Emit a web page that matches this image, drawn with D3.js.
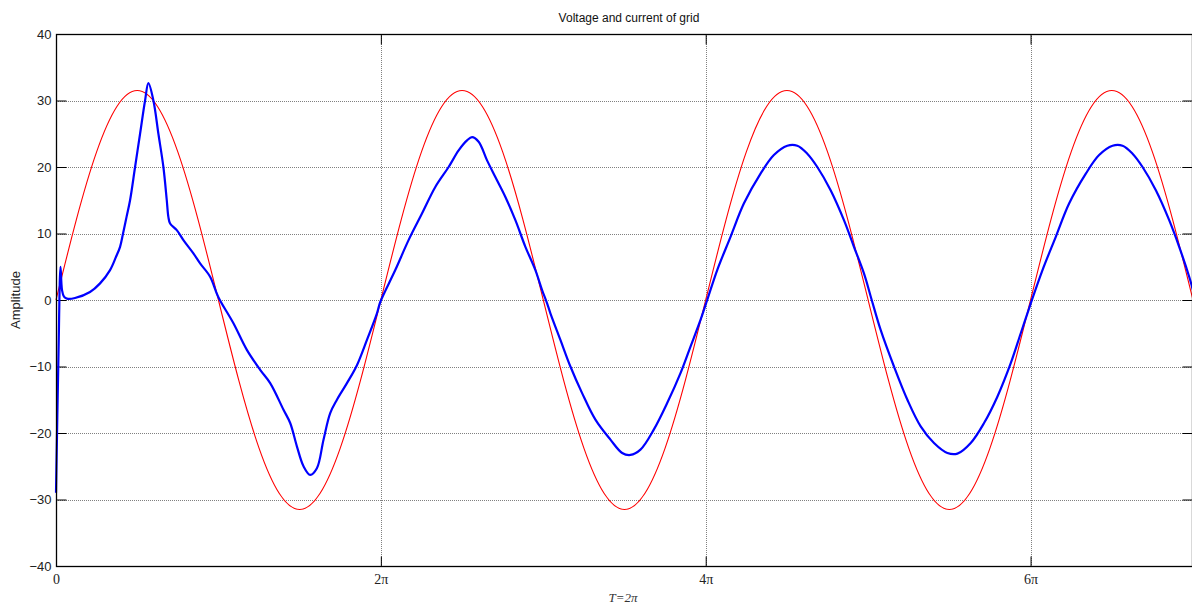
<!DOCTYPE html>
<html>
<head>
<meta charset="utf-8">
<script src="https://cdn.jsdelivr.net/npm/d3@7/dist/d3.min.js"></script>
<style>
  html, body { margin: 0; padding: 0; background: #fff; }
  svg { display: block; }
</style>
</head>
<body>
<svg id="chart" width="1192" height="608"></svg>
<script>
// Time is measured in grid periods (1 period = 2π).
const xTickValues = [0, 1, 2, 3];
const xTickLabels = ["0", "2\u03c0", "4\u03c0", "6\u03c0"];
const yTickValues = [-40, -30, -20, -10, 0, 10, 20, 30, 40];

// Grid voltage, sampled every 1/16 period
const voltageStep = 1 / 16;
const voltage = [
  0, 12.05, 22.27, 29.10, 31.5, 29.10, 22.27, 12.05,
  0, -12.05, -22.27, -29.10, -31.5, -29.10, -22.27, -12.05,
  0, 12.05, 22.27, 29.10, 31.5, 29.10, 22.27, 12.05,
  0, -12.05, -22.27, -29.10, -31.5, -29.10, -22.27, -12.05,
  0, 12.05, 22.27, 29.10, 31.5, 29.10, 22.27, 12.05,
  0, -12.05, -22.27, -29.10, -31.5, -29.10, -22.27, -12.05,
  0, 12.05, 22.27, 29.10, 31.5, 29.10, 22.27, 12.05,
  0
];

// Grid current: sample times (periods) and amplitudes
const currentTime = [
  0.0000, 0.0077, 0.0139, 0.0185, 0.0246, 0.0339, 0.0585, 0.1047, 0.1356, 0.1664,
  0.1848, 0.1972, 0.2064, 0.2172, 0.2280, 0.2434, 0.2588, 0.2742, 0.2844, 0.2998,
  0.3152, 0.3306, 0.3410, 0.3459, 0.3512, 0.3718, 0.3922, 0.4230, 0.4436, 0.4744,
  0.4991, 0.5462, 0.5875, 0.6285, 0.6593, 0.7003, 0.7209, 0.7415, 0.7619, 0.7825,
  0.8031, 0.8235, 0.8441, 0.8648, 0.8956, 0.9264, 0.9572, 0.9880,
  0.9982, 1.0444, 1.0853, 1.1266, 1.1676, 1.2086, 1.2394, 1.2653, 1.2807, 1.3010,
  1.3269, 1.3524, 1.3833, 1.4141, 1.4449, 1.4757, 1.4963, 1.5117, 1.5219, 1.5527,
  1.5835, 1.6195, 1.6605, 1.7067, 1.7428, 1.7683, 1.7991, 1.8401, 1.8814, 1.9224,
  1.9532, 1.9840, 2.0046,
  2.0354, 2.0764, 2.1174, 2.1688, 2.2098, 2.2511, 2.2819, 2.3127, 2.3435, 2.3845,
  2.4255, 2.4563, 2.4871, 2.5110, 2.5385, 2.5795, 2.6208, 2.6617, 2.7027, 2.7440,
  2.7748, 2.8158, 2.8568, 2.8981, 2.9390, 2.9698, 3.0006,
  3.0367, 3.0776, 3.1186, 3.1701, 3.2110, 3.2523, 3.2831, 3.3139, 3.3447, 3.3857,
  3.4267, 3.4575, 3.4883, 3.4997
];
const current = [
  -29, -8, 5, 1.5, 0.5, 0.2, 0.3, 1.2, 2.5, 4.5,
  6.5, 8, 10, 12.5, 15, 20, 25, 30, 32.6, 30,
  25, 20, 15, 12.5, 11.5, 10.5, 9, 7, 5.5, 3.5,
  0.5, -3.5, -7.5, -10.5, -12.5, -16.5, -18.5, -22, -25, -26.3,
  -25.3, -21, -17, -15, -12.5, -9.8, -6, -2,
  -0.3, 4.5, 9, 13, 17, 20, 22.5, 24, 24.5, 23.8,
  21, 18.5, 15.5, 12, 8, 4.5, 1.5, -0.5, -2, -6,
  -10, -14, -18, -21, -23, -23.3, -22.5, -19.5, -15.5, -11,
  -7, -3, 0,
  4.5, 9.5, 14.5, 19, 21.8, 23.2, 23.2, 22, 20, 16.5,
  12, 8, 4, 0, -4.5, -10, -15, -19, -21.5, -23,
  -23.1, -21.5, -18.5, -14.5, -9.5, -5, -0.5,
  4.5, 9.5, 14.5, 19, 21.8, 23.2, 23.2, 22, 20, 16.5,
  12, 8, 3.5, 1.5
];

const svg = d3.select("#chart");
const plotLeft = 56, plotRight = 1193, plotTop = 34, plotBottom = 566;

const x = d3.scaleLinear().domain([0, 3.5]).range([plotLeft, plotRight]);
const y = d3.scaleLinear().domain([-40, 40]).range([plotBottom, plotTop]);

// Dotted grid
const grid = svg.append("g").attr("stroke", "#808080").attr("stroke-width", 1)
  .attr("stroke-dasharray", "1,1").attr("shape-rendering", "crispEdges");
grid.selectAll("line.h").data(yTickValues.filter(v => v > -40 && v < 40)).join("line")
  .attr("class", "h")
  .attr("x1", plotLeft).attr("x2", plotRight)
  .attr("y1", d => Math.round(y(d)) + 0.5).attr("y2", d => Math.round(y(d)) + 0.5);
grid.selectAll("line.v").data(xTickValues.filter(v => v > 0)).join("line")
  .attr("class", "v")
  .attr("y1", plotTop).attr("y2", plotBottom)
  .attr("x1", d => Math.round(x(d)) + 0.5).attr("x2", d => Math.round(x(d)) + 0.5);

// Axes with inward ticks
const yLeft = d3.axisLeft(y).tickValues(yTickValues).tickSize(-10).tickPadding(5).tickSizeOuter(0);
const yRight = d3.axisRight(y).tickValues(yTickValues).tickSize(-10).tickFormat("").tickSizeOuter(0);
const xBottom = d3.axisBottom(x).tickValues(xTickValues).tickSize(-10).tickPadding(8)
  .tickFormat((d, i) => xTickLabels[i]).tickSizeOuter(0);
const xTop = d3.axisTop(x).tickValues(xTickValues).tickSize(-10).tickFormat("").tickSizeOuter(0);

const gl = svg.append("g").attr("transform", `translate(${plotLeft + 0.5},0)`).call(yLeft);
gl.selectAll("text").attr("font-family", "Liberation Sans, Arial, sans-serif")
  .attr("font-size", 13).attr("fill", "#222");
svg.append("g").attr("transform", `translate(${plotRight - 0.5},0)`).call(yRight);
const gb = svg.append("g").attr("transform", `translate(0,${plotBottom + 0.5})`).call(xBottom);
gb.selectAll("text").attr("font-family", "Liberation Serif, Times New Roman, serif")
  .attr("font-size", 14).attr("fill", "#222");
svg.append("g").attr("transform", `translate(0,${plotTop + 0.5})`).call(xTop);
svg.selectAll(".domain").remove();
svg.selectAll(".tick line").attr("stroke", "#000");

// Series
const voltageLine = d3.line()
  .x((d, i) => x(i * voltageStep))
  .y(d => y(d))
  .curve(d3.curveNatural);
svg.append("path").datum(voltage)
  .attr("fill", "none").attr("stroke", "#ff0000").attr("stroke-width", 1.1)
  .attr("d", voltageLine);

const currentLine = d3.line()
  .x((d, i) => x(currentTime[i]))
  .y(d => y(d))
  .curve(d3.curveCatmullRom.alpha(0.5));
svg.append("path").datum(current)
  .attr("fill", "none").attr("stroke", "#0000ff").attr("stroke-width", 2.2)
  .attr("stroke-linejoin", "round")
  .attr("d", currentLine);

// Frame
svg.append("rect")
  .attr("x", plotLeft + 0.5).attr("y", plotTop + 0.5)
  .attr("width", plotRight - plotLeft - 1).attr("height", plotBottom - plotTop)
  .attr("fill", "none").attr("stroke", "#000").attr("stroke-width", 1.3);

// Labels
svg.append("text")
  .attr("x", 629).attr("y", 22).attr("text-anchor", "middle")
  .attr("font-family", "Liberation Sans, Arial, sans-serif").attr("font-size", 12).attr("fill", "#111")
  .text("Voltage and current of grid");

svg.append("text")
  .attr("transform", `translate(20,${(plotTop + plotBottom) / 2}) rotate(-90)`)
  .attr("text-anchor", "middle")
  .attr("font-family", "Liberation Sans, Arial, sans-serif").attr("font-size", 13).attr("fill", "#222")
  .text("Amplitude");

svg.append("text")
  .attr("x", 623).attr("y", 602).attr("text-anchor", "middle")
  .attr("font-family", "Liberation Serif, Times New Roman, serif").attr("font-style", "italic")
  .attr("font-size", 13).attr("fill", "#333")
  .text("T=2\u03c0");
</script>
</body>
</html>
